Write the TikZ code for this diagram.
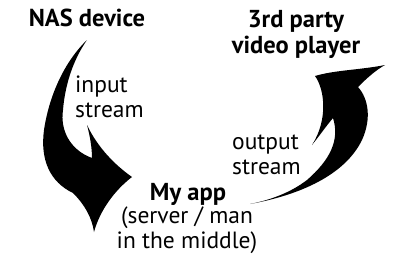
\documentclass[tikz,border=0pt]{standalone}
\usepackage{fontspec}
\setmainfont{PT Sans}
\begin{document}
\begin{tikzpicture}[x=1pt,y=-1pt,
  lbl/.style={inner sep=0pt,font=\fontsize{23.5}{25}\selectfont,align=left},
  ttl/.style={inner sep=0pt,font=\fontsize{24.5}{26}\selectfont\bfseries,align=center},
  swoosh/.style={fill=black,draw=none}]
\useasboundingbox[fill=white] (0,0) rectangle (400,266);
% texts
\node[ttl,anchor=base] (nas) at (87,26) {NAS device};
\node[ttl,anchor=base] (player) at (296,53) {3rd party\\video player};
\node[ttl,anchor=base] (app) at (188,200) {My app};
\node[lbl,align=center,anchor=base] (appsub) at (187,248) {(server / man\\in the middle)};
\node[lbl,anchor=base west] (in) at (75,117) {input\\stream};
\node[lbl,anchor=base west] (out) at (232,174) {output\\stream};
% left arrow (NAS -> app)
\fill[swoosh] (87,40)
  .. controls (68,58) and (50,90) .. (44,130)
  .. controls (40,160) and (50,182) .. (73,193)
  .. controls (85,205) and (92,218) .. (94,232)
  .. controls (100,210) and (115,190) .. (132,177)
  .. controls (115,165) and (98,148) .. (87,125)
  .. controls (90,136) and (92,148) .. (92,158)
  .. controls (70,150) and (60,130) .. (63,110)
  .. controls (65,85) and (73,60) .. (87,40) -- cycle;
% right arrow (app -> player)
\fill[swoosh] (250,204)
  .. controls (300,195) and (345,175) .. (362,140)
  .. controls (372,118) and (368,98) .. (358,87)
  .. controls (367,78) and (376,70) .. (385,65)
  .. controls (360,70) and (335,70) .. (315,76)
  .. controls (325,90) and (328,120) .. (312,145)
  .. controls (320,135) and (327,125) .. (333,118)
  .. controls (340,140) and (330,160) .. (307,180)
  .. controls (290,193) and (270,200) .. (250,204) -- cycle;
\end{tikzpicture}
\end{document}
